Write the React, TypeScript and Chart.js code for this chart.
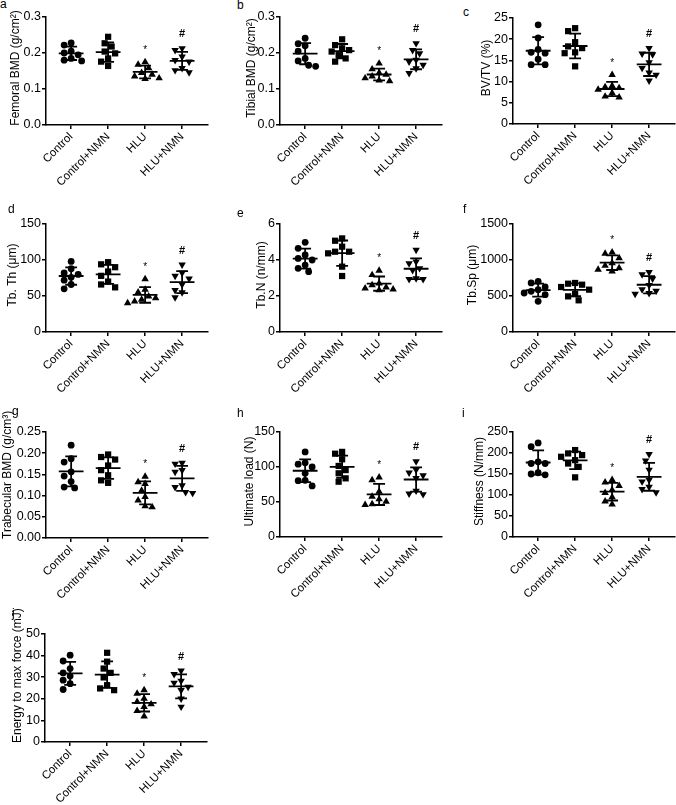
import React, { useEffect, useRef } from "react";
import { Chart, registerables } from "chart.js";

Chart.register(...registerables);

const categories = ["Control", "Control+NMN", "HLU", "HLU+NMN"];

// a — Femoral BMD (g/cm²)
const femoralControl = [0.228, 0.222, 0.205, 0.2, 0.195, 0.185, 0.18, 0.178];
const femoralControlNMN = [0.245, 0.227, 0.218, 0.204, 0.199, 0.185, 0.176, 0.164];
const femoralHLU = [0.175, 0.168, 0.158, 0.145, 0.14, 0.135, 0.13, 0.128];
const femoralHLUNMN = [0.213, 0.208, 0.19, 0.18, 0.176, 0.158, 0.152, 0.146];
const femoralTicks = ["0.0", "0.1", "0.2", "0.3"];

// b — Tibial BMD (g/cm²)
const tibialControl = [0.241, 0.226, 0.22, 0.205, 0.185, 0.178, 0.166, 0.163];
const tibialControlNMN = [0.238, 0.222, 0.213, 0.208, 0.204, 0.194, 0.185, 0.176];
const tibialHLU = [0.171, 0.155, 0.145, 0.14, 0.135, 0.13, 0.124, 0.122];
const tibialHLUNMN = [0.227, 0.208, 0.199, 0.181, 0.176, 0.167, 0.157, 0.144];
const tibialTicks = ["0.0", "0.1", "0.2", "0.3"];

// c — BV/TV (%)
const bvtvControl = [23.4, 20.3, 17.6, 16.9, 16.7, 15.3, 14.0, 14.0];
const bvtvControlNMN = [22.6, 21.9, 19.3, 18.3, 17.9, 16.9, 16.7, 13.6];
const bvtvHLU = [11.6, 9.0, 8.7, 8.5, 8.1, 7.3, 6.5, 6.3];
const bvtvHLUNMN = [17.9, 16.6, 16.4, 14.5, 13.2, 12.1, 11.6, 10.2];
const bvtvTicks = ["0", "5", "10", "15", "20", "25"];

// d — Tb.Th (μm)
const tbthControl = [98, 88, 82, 80, 76, 72, 66, 60];
const tbthControlNMN = [97, 94, 90, 84, 78, 70, 66, 62];
const tbthHLU = [73.6, 58.8, 55.1, 49.5, 47.2, 44.9, 42.6, 40.3];
const tbthHLUNMN = [93.5, 82, 78, 74, 66, 58, 55, 48];
const tbthTicks = ["0", "50", "100", "150"];

// e — Tb.N (n/mm)
const tbnControl = [4.98, 4.65, 4.28, 4.09, 4.0, 3.72, 3.54, 3.35];
const tbnControlNMN = [5.2, 5.07, 4.74, 4.46, 4.46, 4.37, 3.63, 3.11];
const tbnHLU = [3.41, 3.17, 2.7, 2.61, 2.48, 2.43, 2.37, 2.33];
const tbnHLUNMN = [4.56, 3.91, 3.81, 3.54, 3.44, 2.98, 2.94, 2.93];
const tbnTicks = ["0", "2", "4", "6"];

// f — Tb.Sp (μm)
const tbspControl = [704, 681, 625, 588, 565, 542, 519, 426];
const tbspControlNMN = [681, 671, 657, 625, 588, 528, 495, 440];
const tbspHLU = [1106, 1088, 1028, 958, 921, 889, 866, 843];
const tbspHLUNMN = [830, 800, 740, 650, 590, 570, 540, 530];
const tbspTicks = ["0", "500", "1000", "1500"];

// g — Trabecular BMD (g/cm³)
const trabControl = [0.219, 0.187, 0.179, 0.156, 0.146, 0.133, 0.12, 0.118];
const trabControlNMN = [0.197, 0.191, 0.185, 0.171, 0.16, 0.148, 0.136, 0.13];
const trabHLU = [0.145, 0.132, 0.128, 0.112, 0.097, 0.089, 0.075, 0.073];
const trabHLUNMN = [0.177, 0.175, 0.16, 0.156, 0.124, 0.12, 0.108, 0.106];
const trabTicks = ["0.00", "0.05", "0.10", "0.15", "0.20", "0.25"];

// h — Ultimate load (N)
const loadControl = [121.6, 106, 104, 100, 91, 81, 80.5, 73];
const loadControlNMN = [121.6, 119, 111, 101.5, 95.6, 91, 83.8, 79];
const loadHLU = [85.2, 81.4, 64.8, 57.7, 54, 50.6, 47, 46];
const loadHLUNMN = [108, 96, 92, 88, 84, 66, 62, 61];
const loadTicks = ["0", "50", "100", "150"];

// i — Stiffness (N/mm)
const stiffControl = [224, 215, 179, 175, 175, 153, 150, 148];
const stiffControlNMN = [207, 199, 195, 191, 183, 175, 167, 142];
const stiffHLU = [136, 130, 122, 112, 105, 95, 85, 78];
const stiffHLUNMN = [197, 182, 160, 136, 132, 119, 114, 106];
const stiffTicks = ["0", "50", "100", "150", "200", "250"];

// j — Energy to max force (mJ)
const energyControl = [40.2, 37.5, 34, 32, 30.5, 28.6, 27, 24.3];
const energyControlNMN = [41.3, 37.2, 34, 32, 29.9, 26.3, 24.8, 24];
const energyHLU = [24, 22.4, 20.1, 18.6, 17.5, 16.3, 14.4, 11.9];
const energyHLUNMN = [33, 31.4, 28.3, 27.4, 25.5, 24, 20.1, 16.3];
const energyTicks = ["0", "10", "20", "30", "40", "50"];

const significance = ["", "", "*", "#"];

type PanelSpec = {
  letter: string;
  title: string;
  groups: number[][];
  ticks: string[];
  axisX: number;
  areaTop: number;
  areaBottom: number;
  titleCenter: number;
  letterX: number;
  letterY: number;
};

const panels: PanelSpec[] = [
  { letter: "a", title: "Femoral BMD (g/cm²)", groups: [femoralControl, femoralControlNMN, femoralHLU, femoralHLUNMN], ticks: femoralTicks, axisX: 46, areaTop: 17, areaBottom: 125, titleCenter: 16, letterX: 0, letterY: -2 },
  { letter: "b", title: "Tibial BMD (g/cm²)", groups: [tibialControl, tibialControlNMN, tibialHLU, tibialHLUNMN], ticks: tibialTicks, axisX: 280, areaTop: 17, areaBottom: 125, titleCenter: 252, letterX: 237, letterY: -1 },
  { letter: "c", title: "BV/TV (%)", groups: [bvtvControl, bvtvControlNMN, bvtvHLU, bvtvHLUNMN], ticks: bvtvTicks, axisX: 513, areaTop: 18, areaBottom: 124, titleCenter: 487, letterX: 463, letterY: 6 },
  { letter: "d", title: "Tb. Th (μm)", groups: [tbthControl, tbthControlNMN, tbthHLU, tbthHLUNMN], ticks: tbthTicks, axisX: 46, areaTop: 224, areaBottom: 332, titleCenter: 13, letterX: 8, letterY: 203 },
  { letter: "e", title: "Tb.N (n/mm)", groups: [tbnControl, tbnControlNMN, tbnHLU, tbnHLUNMN], ticks: tbnTicks, axisX: 280, areaTop: 224, areaBottom: 332, titleCenter: 262, letterX: 237, letterY: 207 },
  { letter: "f", title: "Tb.Sp (μm)", groups: [tbspControl, tbspControlNMN, tbspHLU, tbspHLUNMN], ticks: tbspTicks, axisX: 513, areaTop: 224, areaBottom: 332, titleCenter: 473, letterX: 463, letterY: 203 },
  { letter: "g", title: "Trabecular BMD (g/cm³)", groups: [trabControl, trabControlNMN, trabHLU, trabHLUNMN], ticks: trabTicks, axisX: 46, areaTop: 432, areaBottom: 538, titleCenter: 8, letterX: 12, letterY: 405 },
  { letter: "h", title: "Ultimate load (N)", groups: [loadControl, loadControlNMN, loadHLU, loadHLUNMN], ticks: loadTicks, axisX: 280, areaTop: 432, areaBottom: 537, titleCenter: 250, letterX: 237, letterY: 407 },
  { letter: "i", title: "Stiffness (N/mm)", groups: [stiffControl, stiffControlNMN, stiffHLU, stiffHLUNMN], ticks: stiffTicks, axisX: 513, areaTop: 432, areaBottom: 537, titleCenter: 480, letterX: 462, letterY: 407 },
  { letter: "j", title: "Energy to max force (mJ)", groups: [energyControl, energyControlNMN, energyHLU, energyHLUNMN], ticks: energyTicks, axisX: 45, areaTop: 634, areaBottom: 742, titleCenter: 18, letterX: 12, letterY: 607 },
];

const FONT = "'Liberation Sans', Arial, Helvetica, sans-serif";
const X_MIN = -0.68;
const X_MAX = 3.7;
const AXIS_LEN = 162;
const X_AXIS_H = 72;
const PAD_TOP = 32;
const PAD_RIGHT = 8;
const TITLE_SIZE = 12;
const shapes = [
  { style: "circle", r: 3.4, rot: 0 },
  { style: "rect", r: 4.4, rot: 0 },
  { style: "triangle", r: 4.3, rot: 0 },
  { style: "triangle", r: 4.3, rot: 180 },
];

function meanSd(v: number[]) {
  const mean = v.reduce((a, b) => a + b, 0) / v.length;
  const sd = Math.sqrt(v.reduce((a, b) => a + (b - mean) * (b - mean), 0) / (v.length - 1));
  return { mean, sd };
}

// simple beeswarm so that overlapping points are spread horizontally
function swarmOffsets(values: number[], pxPerY: number, pxPerX: number) {
  const d = 7;
  const steps = [0, -0.5, 0.5, -1, 1, -1.5, 1.5, -2, 2, -2.5, 2.5];
  const order = values.map((_, i) => i).sort((a, b) => values[b] - values[a]);
  const placed: number[][] = [];
  const offs = values.map(() => 0);
  for (const i of order) {
    const py = values[i] * pxPerY;
    for (const s of steps) {
      const px = s * d;
      if (placed.every((p) => Math.hypot(p[0] - px, p[1] - py) >= d)) {
        offs[i] = px / pxPerX;
        placed.push([px, py]);
        break;
      }
    }
  }
  return offs;
}

function Panel({ spec }: { spec: PanelSpec }) {
  const ref = useRef<HTMLCanvasElement>(null);
  const left = Math.round(spec.titleCenter - 8);
  const top = spec.areaTop - PAD_TOP;
  const width = Math.round(spec.axisX + AXIS_LEN + PAD_RIGHT - left);
  const height = spec.areaBottom - top + X_AXIS_H;

  useEffect(() => {
    if (!ref.current) return;
    const tickVals = spec.ticks.map(Number);
    const yMax = tickVals[tickVals.length - 1];
    const plotH = spec.areaBottom - spec.areaTop;
    const pxPerY = plotH / yMax;
    const pxPerX = AXIS_LEN / (X_MAX - X_MIN);

    const datasets = spec.groups.map((vals, gi) => {
      const offs = swarmOffsets(vals, pxPerY, pxPerX);
      return {
        label: categories[gi],
        data: vals.map((v, i) => ({ x: gi + offs[i], y: v })),
        pointStyle: shapes[gi].style as any,
        pointRadius: shapes[gi].r,
        pointRotation: shapes[gi].rot,
        backgroundColor: "#000",
        borderColor: "#000",
        borderWidth: 0,
        showLine: false,
      };
    });

    const errorBars = {
      id: "errorBars",
      afterDatasetsDraw(chart: any) {
        const { ctx, scales } = chart;
        const x = scales.x;
        const y = scales.y;
        ctx.save();
        ctx.strokeStyle = "#000";
        ctx.fillStyle = "#000";
        ctx.lineWidth = 1.8;
        spec.groups.forEach((vals, gi) => {
          const { mean, sd } = meanSd(vals);
          const yM = y.getPixelForValue(mean);
          const yHi = y.getPixelForValue(mean + sd);
          const yLo = y.getPixelForValue(mean - sd);
          const xc = x.getPixelForValue(gi);
          const xl = x.getPixelForValue(gi - 0.335);
          const xr = x.getPixelForValue(gi + 0.335);
          const cl = x.getPixelForValue(gi - 0.16);
          const cr = x.getPixelForValue(gi + 0.16);
          ctx.beginPath();
          ctx.moveTo(xl, yM);
          ctx.lineTo(xr, yM);
          ctx.moveTo(xc, yHi);
          ctx.lineTo(xc, yLo);
          ctx.moveTo(cl, yHi);
          ctx.lineTo(cr, yHi);
          ctx.moveTo(cl, yLo);
          ctx.lineTo(cr, yLo);
          ctx.stroke();
          const mark = significance[gi];
          if (mark) {
            const top = Math.max(Math.max(...vals), mean + sd);
            const cy = y.getPixelForValue(top) - 15;
            ctx.textAlign = "center";
            ctx.textBaseline = "alphabetic";
            if (mark === "*") {
              ctx.font = `10px ${FONT}`;
              ctx.fillText(mark, xc, cy + 5.7);
            } else {
              ctx.font = `bold 11px ${FONT}`;
              ctx.fillText(mark, xc, cy + 4);
            }
          }
        });
        ctx.restore();
      },
      afterDraw(chart: any) {
        // y-axis title: centred on the axis, but long titles rest on the axis bottom
        const { ctx, chartArea } = chart;
        ctx.save();
        ctx.font = `${TITLE_SIZE}px ${FONT}`;
        ctx.fillStyle = "#000";
        const w = ctx.measureText(spec.title).width;
        const mid = (chartArea.top + chartArea.bottom) / 2;
        const cy = Math.min(mid - 3, chartArea.bottom + 1 - w / 2);
        ctx.translate(spec.titleCenter - left, cy);
        ctx.rotate(-Math.PI / 2);
        ctx.textAlign = "center";
        ctx.textBaseline = "middle";
        ctx.fillText(spec.title, 0, 0);
        ctx.restore();
      },
    };

    const axisGrid = {
      drawOnChartArea: false,
      drawTicks: true,
      tickLength: 4,
      tickWidth: 1.5,
      tickColor: "#000",
      color: "#000",
      lineWidth: 1.5,
    };

    const chart = new Chart(ref.current, {
      type: "scatter",
      data: { datasets },
      options: {
        responsive: false,
        animation: false,
        devicePixelRatio: 1,
        events: [],
        layout: { padding: { top: PAD_TOP, right: PAD_RIGHT, left: 0, bottom: 0 } },
        plugins: { legend: { display: false }, tooltip: { enabled: false } },
        scales: {
          x: {
            type: "linear",
            min: X_MIN,
            max: X_MAX,
            afterBuildTicks: (s: any) => {
              s.ticks = categories.map((_, i) => ({ value: i }));
            },
            afterFit: (s: any) => {
              s.height = X_AXIS_H;
              s.paddingLeft = 0;
              s.paddingRight = 0;
            },
            ticks: {
              autoSkip: false,
              minRotation: 45,
              maxRotation: 45,
              padding: 1,
              color: "#000",
              font: { family: FONT, size: 11.5 },
              callback: (v: any) => categories[v as number],
            },
            grid: axisGrid,
            border: { display: true, color: "#000", width: 1.5 },
          },
          y: {
            type: "linear",
            min: 0,
            max: yMax,
            afterBuildTicks: (s: any) => {
              s.ticks = tickVals.map((v) => ({ value: v }));
            },
            afterFit: (s: any) => {
              s.width = spec.axisX - left;
              s.paddingTop = 0;
              s.paddingBottom = 0;
            },
            ticks: {
              padding: 1,
              color: "#000",
              font: { family: FONT, size: 12.5 },
              callback: (_v: any, i: number) => spec.ticks[i],
            },
            title: { display: false },
            grid: axisGrid,
            border: { display: true, color: "#000", width: 1.5 },
          },
        },
      } as any,
      plugins: [errorBars],
    });
    return () => chart.destroy();
  }, []);

  return (
    <>
      <canvas
        ref={ref}
        width={width}
        height={height}
        style={{ position: "absolute", left, top, width, height }}
      />
      <div
        style={{
          position: "absolute",
          left: spec.letterX,
          top: spec.letterY,
          font: `12px ${FONT}`,
          lineHeight: "12px",
          color: "#000",
        }}
      >
        {spec.letter}
      </div>
    </>
  );
}

export default function App() {
  return (
    <div style={{ position: "absolute", left: 0, top: 0, width: 676, height: 805, background: "#fff" }}>
      {panels.map((p) => (
        <Panel key={p.letter} spec={p} />
      ))}
    </div>
  );
}
